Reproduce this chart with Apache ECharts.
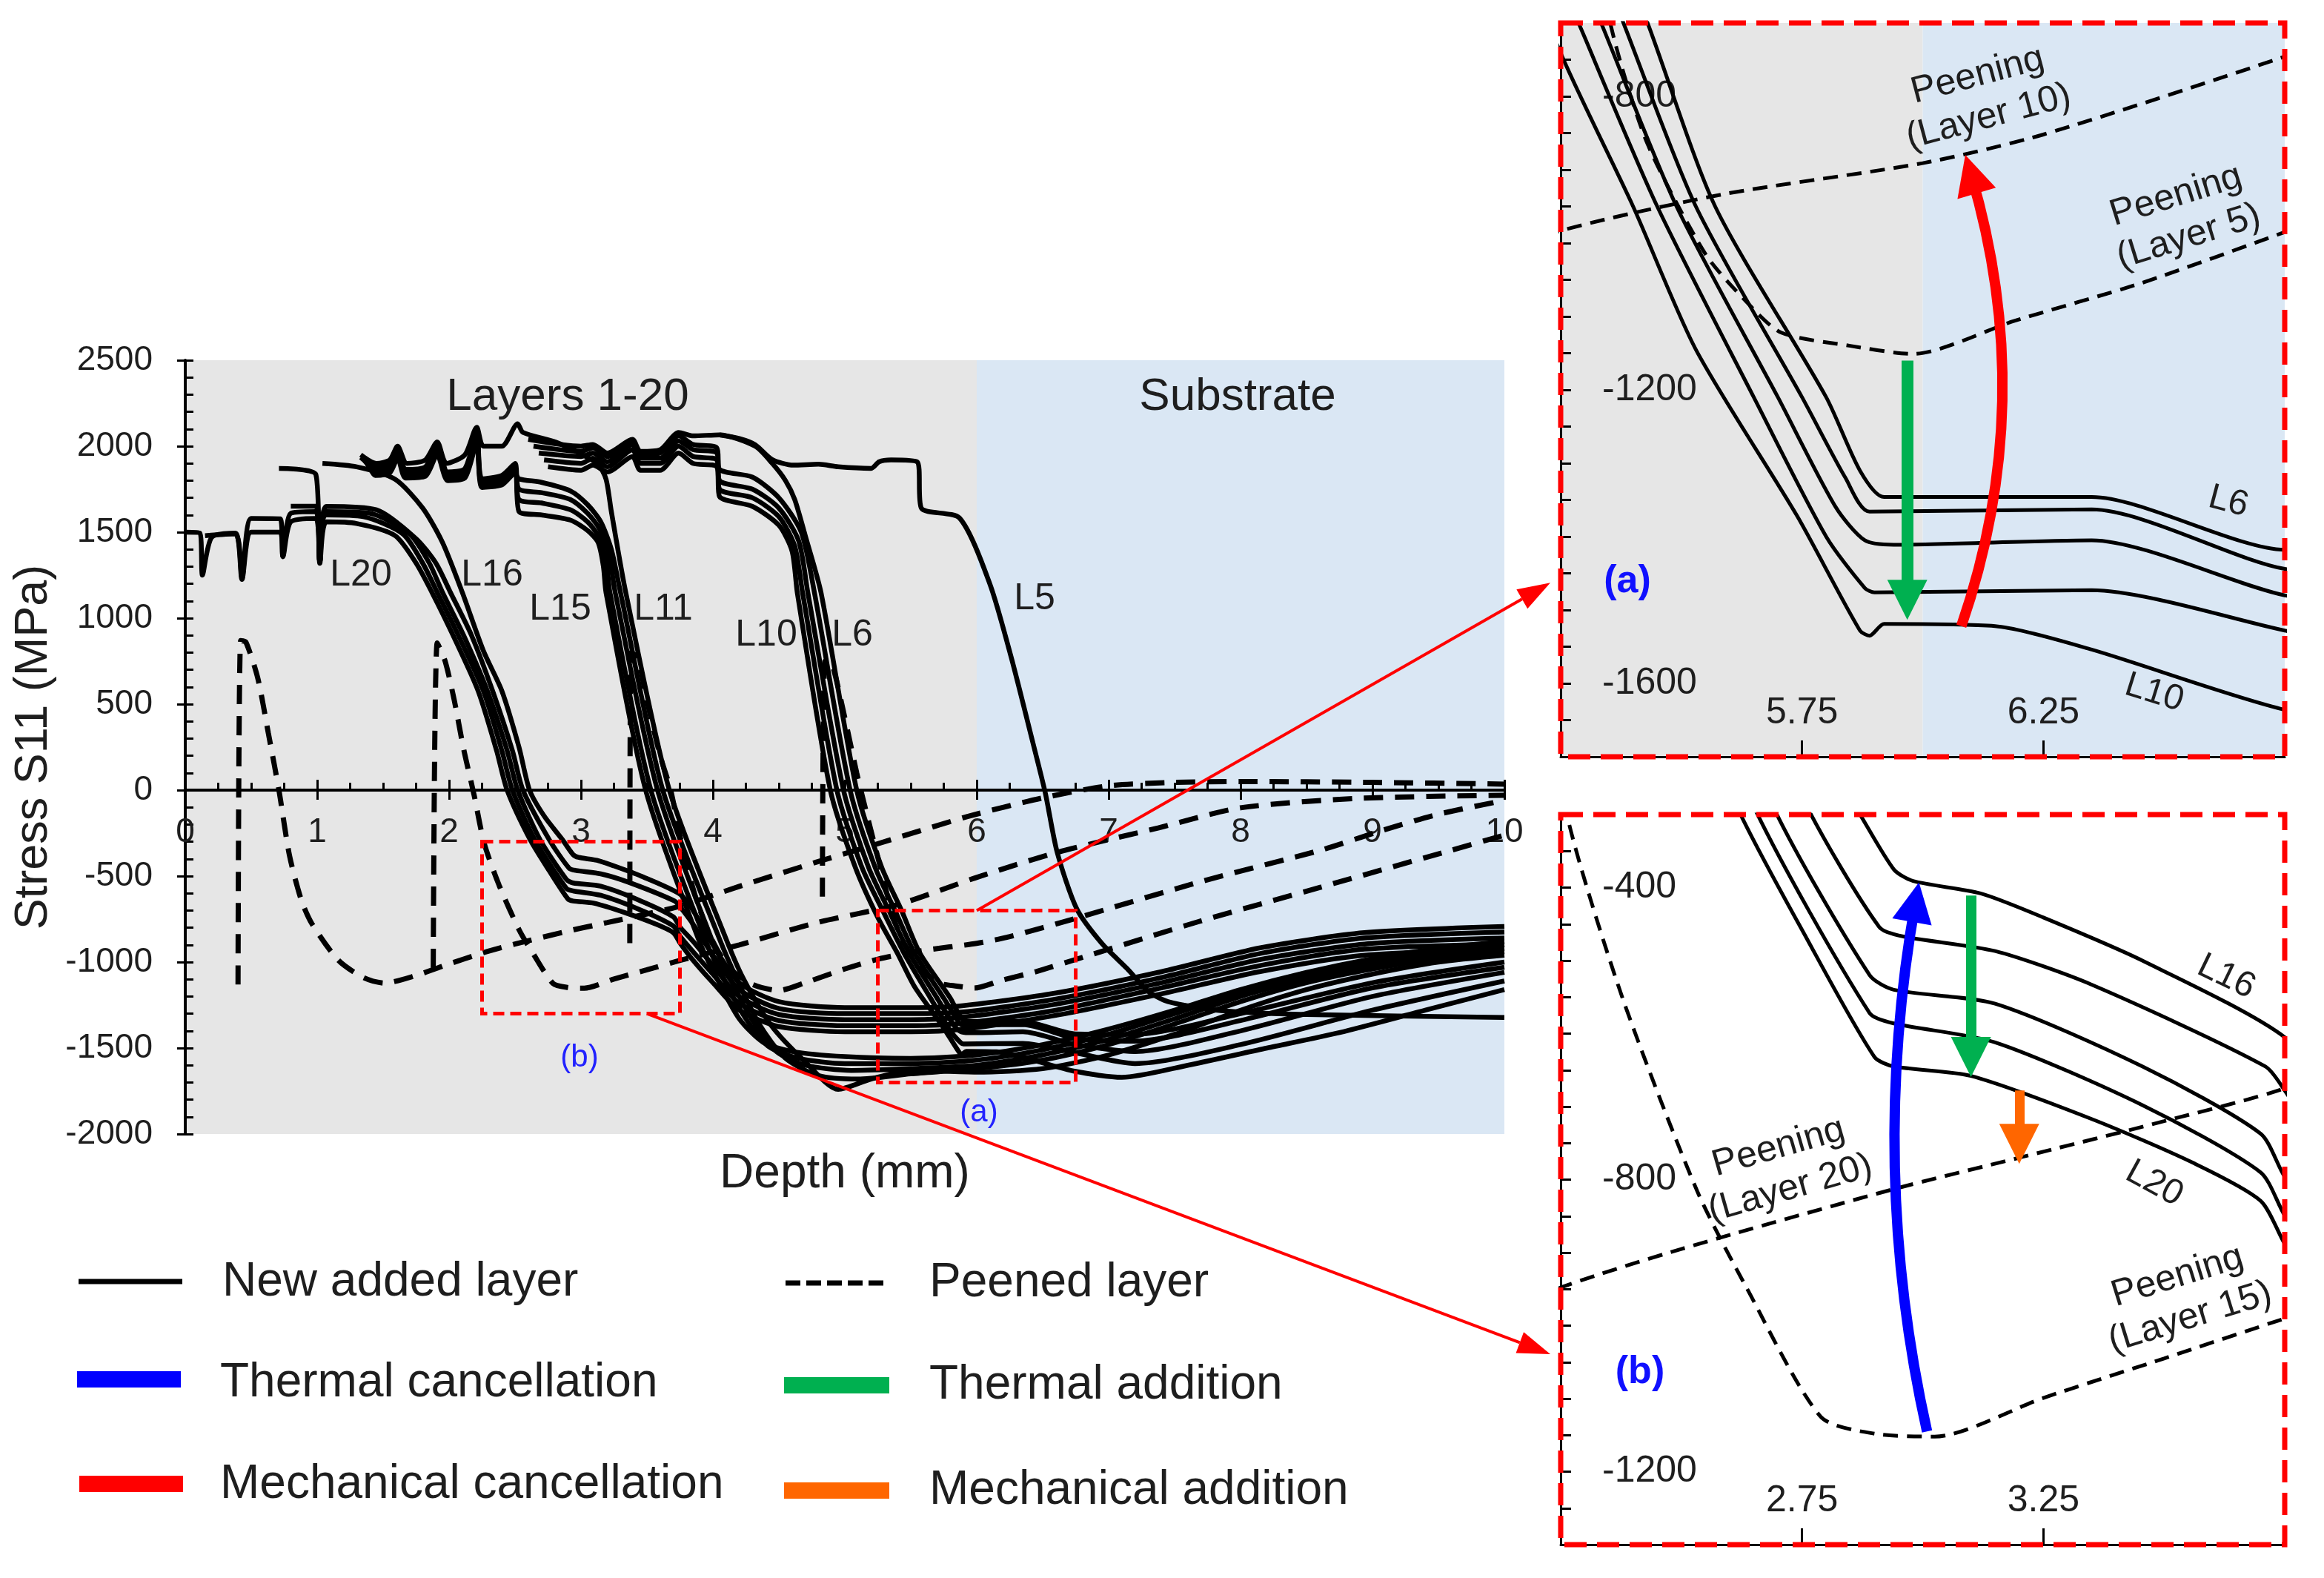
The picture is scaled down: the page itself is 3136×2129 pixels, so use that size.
<!DOCTYPE html>
<html>
<head>
<meta charset="utf-8">
<title>Stress S11 vs depth</title>
<script src="https://cdn.jsdelivr.net/npm/echarts/dist/echarts.min.js"></script>
<style>
html,body{margin:0;padding:0;background:#ffffff;}
#chart{width:3136px;height:2129px;}
</style>
</head>
<body>
<div id="chart"></div>
<script>
// ---------------- data: [depth (mm), stress S11 (MPa)] ----------------
// New added layers, group L16-L20
const L20 = [[0,1500],[0.11,1495],[0.13,1250],[0.2,1470],[0.38,1495],[0.43,1225],[0.5,1500],[0.72,1500],[0.74,1357],[0.8,1560],[0.99,1580],[1.02,1319],[1.07,1560],[1.3,1550],[1.59,1480],[1.75,1320],[1.87,1150],[2.03,900],[2.22,577],[2.36,230],[2.44,0],[2.615,-289],[2.76,-470],[2.90,-632],[2.94,-645],[3.10,-658],[3.35,-717],[3.56,-777],[3.70,-829],[3.75,-888],[3.85,-990],[4.0,-1120],[4.2,-1280],[4.5,-1375],[5.0,-1405],[5.5,-1405],[5.9,-1390],[6.6,-1310],[7.4,-1185],[8.15,-1055],[8.94,-960],[10,-930]];
const L19 = [[0.15,1480],[0.38,1490],[0.43,1235],[0.5,1580],[0.72,1578],[0.74,1360],[0.8,1610],[0.99,1620],[1.02,1330],[1.07,1600],[1.35,1590],[1.65,1490],[1.8,1320],[1.91,1150],[2.07,900],[2.26,577],[2.40,230],[2.48,0],[2.65,-289],[2.89,-572],[2.94,-586],[3.15,-612],[3.455,-698],[3.70,-790],[3.75,-849],[3.85,-940],[4.0,-1070],[4.2,-1240],[4.5,-1340],[5.0,-1370],[5.5,-1370],[5.9,-1355],[6.6,-1280],[7.4,-1150],[8.15,-1020],[8.94,-925],[10,-895]];
const L18 = [[0.8,1651],[0.99,1651],[1.02,1330],[1.07,1620],[1.4,1610],[1.7,1490],[1.85,1320],[1.95,1150],[2.11,900],[2.29,577],[2.44,230],[2.52,0],[2.69,-289],[2.89,-520],[2.94,-540],[3.15,-559],[3.455,-645],[3.70,-737],[3.75,-796],[3.85,-880],[4.0,-1020],[4.2,-1200],[4.5,-1305],[5.0,-1335],[5.5,-1335],[5.9,-1320],[6.6,-1245],[7.4,-1120],[8.15,-985],[8.94,-895],[10,-860]];
const L17 = [[0.71,1871],[0.99,1836],[1.02,1330],[1.07,1650],[1.45,1630],[1.75,1462],[1.9,1320],[2.01,1150],[2.17,900],[2.33,577],[2.48,230],[2.56,0],[2.76,-289],[2.91,-454],[2.96,-467],[3.15,-487],[3.35,-533],[3.71,-645],[3.75,-678],[3.85,-780],[4.0,-960],[4.2,-1160],[4.5,-1270],[5.0,-1300],[5.5,-1300],[5.9,-1290],[6.6,-1215],[7.4,-1090],[8.15,-950],[8.94,-860],[10,-825]];
const L16 = [[1.04,1900],[1.3,1880],[1.59,1808],[1.8,1640],[1.95,1440],[2.1,1150],[2.26,810],[2.40,577],[2.53,250],[2.61,0],[2.72,-150],[2.86,-289],[2.94,-375],[2.98,-391],[3.12,-408],[3.25,-441],[3.455,-500],[3.75,-605],[3.85,-700],[4.0,-900],[4.2,-1120],[4.5,-1230],[5.0,-1265],[5.5,-1265],[5.9,-1253],[6.6,-1180],[7.4,-1056],[8.15,-917],[8.94,-829],[10,-793]];
// group L11-L15
const L15 = [[1.33,1935],[1.44,1880],[1.55,1900],[1.61,1990],[1.67,1865],[1.82,1880],[1.91,2010],[1.99,1850],[2.12,1870],[2.21,2080],[2.25,1810],[2.4,1830],[2.5,1900],[2.53,1620],[2.7,1600],[2.92,1570],[3.05,1510],[3.13,1440],[3.17,1300],[3.19,1147],[3.49,0],[3.89,-866],[4.03,-1095],[4.2,-1330],[4.38,-1466],[4.6,-1520],[5.0,-1550],[5.5,-1560],[6.0,-1540],[6.5,-1480],[7.0,-1390],[7.5,-1280],[8.0,-1160],[8.5,-1060],[9.0,-980],[9.5,-920],[10,-880]];
const L14 = [[1.36,1915],[1.44,1860],[1.55,1880],[1.61,1970],[1.67,1845],[1.82,1860],[1.91,1990],[1.99,1830],[2.12,1850],[2.21,2060],[2.25,1790],[2.4,1810],[2.5,1880],[2.53,1690],[2.7,1670],[2.92,1630],[3.05,1560],[3.13,1480],[3.19,1340],[3.22,1147],[3.53,0],[3.94,-866],[4.08,-1095],[4.25,-1330],[4.42,-1490],[4.65,-1560],[5.0,-1590],[5.5,-1590],[6.0,-1570],[6.5,-1510],[7.0,-1420],[7.5,-1300],[8.0,-1180],[8.5,-1080],[9.0,-1000],[9.5,-940],[10,-900]];
const L13 = [[1.38,1895],[1.44,1845],[1.55,1860],[1.61,1950],[1.67,1830],[1.82,1840],[1.91,1970],[1.99,1815],[2.12,1830],[2.21,2040],[2.25,1775],[2.4,1790],[2.5,1860],[2.53,1750],[2.7,1730],[2.92,1690],[3.05,1610],[3.14,1520],[3.21,1380],[3.26,1147],[3.58,0],[3.99,-866],[4.13,-1095],[4.3,-1340],[4.48,-1520],[4.7,-1600],[5.05,-1630],[5.5,-1620],[6.0,-1600],[6.5,-1540],[7.0,-1450],[7.5,-1330],[8.0,-1200],[8.5,-1100],[9.0,-1020],[9.5,-960],[10,-920]];
const L12 = [[1.4,1875],[1.44,1830],[1.55,1845],[1.61,1930],[1.67,1815],[1.82,1825],[1.91,1950],[1.99,1800],[2.12,1815],[2.21,2020],[2.25,1760],[2.4,1775],[2.5,1840],[2.53,1810],[2.7,1790],[2.92,1740],[3.05,1660],[3.15,1560],[3.23,1400],[3.30,1147],[3.62,0],[4.05,-866],[4.18,-1095],[4.35,-1360],[4.55,-1560],[4.8,-1660],[5.1,-1680],[5.5,-1650],[6.0,-1620],[6.5,-1570],[7.0,-1480],[7.5,-1360],[8.0,-1230],[8.5,-1120],[9.0,-1040],[9.5,-980],[10,-940]];
const L11 = [[1.33,1950],[1.45,1900],[1.55,1920],[1.61,2000],[1.68,1900],[1.82,1920],[1.91,2025],[1.98,1900],[2.12,1950],[2.21,2110],[2.26,2000],[2.4,2000],[2.52,2130],[2.56,2080],[2.81,2023],[3.01,1951],[3.13,1894],[3.19,1808],[3.23,1620],[3.34,1147],[3.67,0],[4.10,-866],[4.23,-1095],[4.44,-1367],[4.7,-1580],[4.95,-1740],[5.2,-1680],[5.5,-1630],[6.0,-1640],[6.5,-1620],[7.0,-1540],[7.5,-1420],[8.0,-1280],[8.5,-1160],[9.0,-1070],[9.5,-1000],[10,-960]];
// group L6-L10
const L10 = [[2.75,1880],[3.0,1860],[3.09,1890],[3.2,1850],[3.39,1940],[3.45,1860],[3.6,1860],[3.74,1960],[3.85,1900],[4.03,1880],[4.05,1707],[4.3,1650],[4.5,1540],[4.6,1390],[4.64,1147],[4.89,0],[5.08,-450],[5.25,-741],[5.40,-950],[5.53,-1145],[5.74,-1372],[5.87,-1528],[5.89,-1535],[5.92,-1519],[6.15,-1522],[6.35,-1554],[6.75,-1636],[7.1,-1670],[7.6,-1600],[8.2,-1500],[8.75,-1410],[9.4,-1280],[10,-1160]];
const L9 = [[2.72,1920],[3.0,1900],[3.09,1930],[3.2,1880],[3.39,1980],[3.45,1900],[3.6,1900],[3.74,2000],[3.85,1940],[4.03,1920],[4.05,1750],[4.3,1700],[4.5,1590],[4.62,1420],[4.68,1147],[4.94,0],[5.13,-450],[5.30,-720],[5.45,-950],[5.65,-1210],[5.80,-1400],[5.88,-1470],[5.90,-1476],[6.35,-1473],[6.75,-1528],[7.2,-1590],[8.0,-1480],[9.0,-1280],[10,-1110]];
const L8 = [[2.68,1960],[3.0,1940],[3.09,1960],[3.2,1910],[3.39,2010],[3.45,1930],[3.6,1930],[3.74,2030],[3.85,1980],[4.03,1960],[4.05,1800],[4.3,1750],[4.5,1640],[4.65,1450],[4.72,1147],[4.99,0],[5.18,-450],[5.34,-710],[5.49,-950],[5.70,-1210],[5.82,-1360],[5.88,-1405],[5.94,-1411],[6.35,-1405],[6.75,-1480],[7.2,-1520],[8.0,-1400],[9.0,-1200],[10,-1060]];
const L7 = [[2.64,2000],[3.0,1970],[3.09,1990],[3.2,1940],[3.39,2030],[3.45,1950],[3.6,1960],[3.74,2060],[3.85,2010],[4.03,1990],[4.05,1865],[4.3,1820],[4.5,1700],[4.67,1500],[4.77,1147],[5.04,0],[5.23,-450],[5.38,-700],[5.53,-950],[5.75,-1210],[5.84,-1320],[5.89,-1366],[6.35,-1363],[6.75,-1444],[7.2,-1460],[8.0,-1340],[9.0,-1150],[10,-1030]];
const L6 = [[2.6,2040],[3.0,2000],[3.09,2010],[3.2,1960],[3.39,2040],[3.45,1970],[3.6,1980],[3.74,2080],[3.85,2060],[4.05,2066],[4.32,2000],[4.45,1900],[4.55,1800],[4.62,1690],[4.70,1480],[4.82,1147],[5.09,0],[5.28,-450],[5.43,-700],[5.57,-950],[5.80,-1210],[5.87,-1310],[5.92,-1346],[6.35,-1346],[6.75,-1418],[7.2,-1420],[8.0,-1300],[9.0,-1120],[10,-1000]];
// layer 5
const L5 = [[4.05,2066],[4.2,2045],[4.32,2009],[4.45,1922],[4.61,1890],[4.8,1895],[4.95,1880],[5.2,1871],[5.26,1909],[5.35,1920],[5.55,1908],[5.58,1640],[5.87,1582],[6.1,1198],[6.26,776],[6.42,293],[6.52,-17],[6.61,-362],[6.76,-693],[6.95,-893],[7.14,-1038],[7.3,-1170],[7.45,-1230],[7.85,-1282],[8.5,-1305],[10,-1322]];
// peened layers
const P20 = [[0.40,-1130],[0.42,870],[0.46,860],[0.55,650],[0.63,330],[0.71,0],[0.79,-380],[0.88,-640],[0.96,-777],[1.16,-989],[1.35,-1090],[1.51,-1122],[1.75,-1078],[1.98,-1016],[2.266,-944],[2.5,-895],[2.94,-813],[3.2,-770],[3.5,-720],[3.75,-675],[4.2,-560],[4.78,-420],[5.22,-319],[5.93,-154],[6.49,-47],[7.0,25],[7.5,45],[8.0,50],[9.0,45],[10,35]];
const P15 = [[1.88,-1034],[1.91,856],[1.97,750],[2.04,520],[2.11,240],[2.19,-30],[2.266,-309],[2.379,-553],[2.533,-816],[2.635,-948],[2.789,-1125],[2.9,-1148],[3.025,-1152],[3.25,-1099],[3.5,-1045],[3.752,-990],[4.2,-900],[4.78,-772],[5.41,-664],[5.99,-510],[6.61,-362],[7.38,-219],[8.0,-103],[8.92,-47],[10,-30]];
const P10 = [[3.37,-890],[3.38,800],[3.43,770],[3.5,520],[3.6,200],[3.68,0],[3.76,-300],[3.86,-600],[3.98,-850],[4.12,-1030],[4.3,-1130],[4.5,-1165],[4.7,-1120],[5.0,-1040],[5.256,-982],[5.59,-933],[6.0,-891],[6.25,-852],[6.74,-748],[7.69,-534],[8.61,-349],[9.08,-233],[9.5,-140],[10,-60]];
const P5 = [[4.83,-620],[4.85,750],[4.9,740],[5.0,420],[5.09,100],[5.17,-150],[5.27,-450],[5.36,-720],[5.43,-865],[5.55,-1015],[5.635,-1080],[5.707,-1122],[5.85,-1140],[5.98,-1151],[6.19,-1106],[6.455,-1054],[6.75,-985],[7.69,-763],[8.61,-564],[9.54,-362],[10,-262]];

// region boundaries (depth, mm)
const layerZone = [0, 6];
const substrateZone = [6, 10];

// main axis ranges
const xRange = [0, 10];
const yRange = [-2000, 2500];

// zoom windows [xmin, xmax, ymin, ymax]
const zoomA = [5.25, 6.75, -1700, -700];
const zoomB = [2.25, 3.75, -1300, -300];

// annotation arrows inside zoom windows (data coords)
const arrowsA = [
  {kind: 'Thermal addition', from: [5.968, -1160], to: [5.968, -1486], color: '#00b050', width: 16, curve: 0},
  {kind: 'Mechanical cancellation', from: [6.08, -1522], to: [6.10, -906], color: '#ff0000', width: 14, curve: -0.16}
];
const arrowsB = [
  {kind: 'Thermal cancellation', from: [3.009, -1145], to: [2.985, -420], color: '#0000ff', width: 14, curve: 0.1},
  {kind: 'Thermal addition', from: [3.1, -411], to: [3.1, -632], color: '#00b050', width: 14, curve: 0},
  {kind: 'Mechanical addition', from: [3.2, -678], to: [3.2, -751], color: '#ff6600', width: 13, curve: 0}
];

// ---------------- chart ----------------
const FONT = '"Liberation Sans", Arial, Helvetica, sans-serif';
const GRAY = '#e6e6e6';
const LBLUE = '#dae7f4';
const TXT = '#1e1e1e';

const MAIN = {left: 250, top: 486, width: 1780, height: 1044};
// distance of the zero line above the grid bottom (x axis drawn at stress = 0)
const zeroOffset = -MAIN.height * (0 - yRange[0]) / (yRange[1] - yRange[0]);

const chart = echarts.init(document.getElementById('chart'), null, {renderer: 'canvas', width: 3136, height: 2129});

function lineSeries(name, data, xi, yi, dashed, inset) {
  return {
    type: 'line', name: name, data: data, xAxisIndex: xi, yAxisIndex: yi,
    symbol: 'none', showSymbol: false, smooth: 0.25, silent: true, clip: true, z: 3,
    lineStyle: dashed
      ? {color: '#000', width: inset ? 5 : 7, type: inset ? [20, 12] : [26, 16], cap: 'butt'}
      : {color: '#000', width: inset ? 5 : 6.5}
  };
}

const solidAll = [['L5', L5], ['L6', L6], ['L7', L7], ['L8', L8], ['L9', L9], ['L10', L10], ['L11', L11], ['L12', L12], ['L13', L13], ['L14', L14], ['L15', L15], ['L16', L16], ['L17', L17], ['L18', L18], ['L19', L19], ['L20', L20]];
const peenAll = [['Peening (Layer 5)', P5], ['Peening (Layer 10)', P10], ['Peening (Layer 15)', P15], ['Peening (Layer 20)', P20]];

const series = [];
// main background zones
series.push({
  type: 'line', name: 'zones', data: [[layerZone[0], yRange[0]]], xAxisIndex: 0, yAxisIndex: 0, symbol: 'none', silent: true, z: 1,
  lineStyle: {width: 0},
  markArea: {silent: true, z: 1, label: {show: false}, data: [
    [{xAxis: layerZone[0], yAxis: yRange[0], itemStyle: {color: GRAY}}, {xAxis: layerZone[1], yAxis: yRange[1]}],
    [{xAxis: substrateZone[0], yAxis: yRange[0], itemStyle: {color: LBLUE}}, {xAxis: substrateZone[1], yAxis: yRange[1]}]
  ]}
});
solidAll.forEach(s => series.push(lineSeries(s[0], s[1], 0, 0, false, false)));
peenAll.forEach(s => series.push(lineSeries(s[0], s[1], 0, 0, true, false)));

// inset (a) background
series.push({
  type: 'line', name: 'zonesA', data: [[zoomA[0], zoomA[2]]], xAxisIndex: 3, yAxisIndex: 2, symbol: 'none', silent: true, z: 1,
  lineStyle: {width: 0},
  markArea: {silent: true, z: 1, label: {show: false}, data: [
    [{xAxis: zoomA[0], yAxis: zoomA[2], itemStyle: {color: GRAY}}, {xAxis: substrateZone[0], yAxis: zoomA[3]}],
    [{xAxis: substrateZone[0], yAxis: zoomA[2], itemStyle: {color: LBLUE}}, {xAxis: zoomA[1], yAxis: zoomA[3]}]
  ]}
});
[['L6', L6], ['L7', L7], ['L8', L8], ['L9', L9], ['L10', L10]].forEach(s => series.push(lineSeries(s[0], s[1], 3, 2, false, true)));
[['Peening (Layer 5)', P5], ['Peening (Layer 10)', P10]].forEach(s => series.push(lineSeries(s[0], s[1], 3, 2, true, true)));
// inset (b)
[['L16', L16], ['L17', L17], ['L18', L18], ['L19', L19], ['L20', L20]].forEach(s => series.push(lineSeries(s[0], s[1], 4, 3, false, true)));
[['Peening (Layer 15)', P15], ['Peening (Layer 20)', P20]].forEach(s => series.push(lineSeries(s[0], s[1], 4, 3, true, true)));

function arrowSeries(list, xi, yi) {
  return {
    type: 'lines', coordinateSystem: 'cartesian2d', xAxisIndex: xi, yAxisIndex: yi, z: 6, silent: true,
    symbol: ['none', 'triangle'], symbolSize: [0, 54],
    data: list.map(a => ({name: a.kind, coords: [a.from, a.to], lineStyle: {color: a.color, width: a.width, curveness: a.curve, opacity: 1}}))
  };
}
series.push(arrowSeries(arrowsA, 3, 2));
series.push(arrowSeries(arrowsB, 4, 3));

function insetX(gi, r) {
  return {
    gridIndex: gi, type: 'value', min: r[0], max: r[1], interval: 0.5, position: 'bottom', z: 2,
    axisLine: {show: true, onZero: false, lineStyle: {color: '#000', width: 3}},
    axisTick: {show: true, inside: true, length: 22, lineStyle: {color: '#000', width: 3}},
    axisLabel: {inside: true, margin: 34, fontSize: 50, color: TXT, fontFamily: FONT, showMinLabel: false, showMaxLabel: false, formatter: v => v.toFixed(2)},
    splitLine: {show: false}
  };
}
function insetY(gi, r) {
  return {
    gridIndex: gi, type: 'value', min: r[2], max: r[3], interval: 50, position: 'left', z: 2,
    axisLine: {show: true, onZero: false, lineStyle: {color: '#000', width: 3}},
    axisTick: {show: true, inside: true, length: 14, lineStyle: {color: '#000', width: 3}},
    axisLabel: {inside: true, margin: 56, fontSize: 50, color: TXT, fontFamily: FONT, formatter: v => (v % 400 === 0 ? String(v) : '')},
    splitLine: {show: false}
  };
}

function txt(id, text, x, y, size, opts) {
  opts = opts || {};
  return {
    type: 'text', id: id, x: x, y: y, rotation: opts.rot || 0, z: 60, silent: true,
    style: {text: text, fontSize: size, fontFamily: FONT, fontWeight: opts.bold ? 'bold' : 'normal', fill: opts.color || TXT,
      align: opts.align || 'center', verticalAlign: 'middle', lineHeight: opts.lh || size * 1.15}
  };
}

const graphics = [
  txt('tLayers', 'Layers 1-20', 766, 536, 62),
  txt('tSub', 'Substrate', 1670, 536, 62),
  txt('cL20', 'L20', 487, 776, 50),
  txt('cL16', 'L16', 664, 776, 50),
  txt('cL15', 'L15', 756, 822, 50),
  txt('cL11', 'L11', 895, 822, 50),
  txt('cL10', 'L10', 1034, 857, 50),
  txt('cL6', 'L6', 1150, 857, 50),
  txt('cL5', 'L5', 1396, 808, 50),
  txt('mB', '(b)', 782, 1427, 42, {color: '#2222ff'}),
  txt('mA', '(a)', 1321, 1501, 42, {color: '#2222ff'}),
  // inset (a)
  txt('aP10', 'Peening\n(Layer 10)', 2676, 130, 50, {rot: 0.26, lh: 58}),
  txt('aP5', 'Peening\n(Layer 5)', 2945, 292, 50, {rot: 0.3, lh: 58}),
  txt('aTag', '(a)', 2196, 785, 52, {bold: true, color: '#1010ff'}),
  txt('aL6', 'L6', 3007, 677, 48, {rot: -0.26}),
  txt('aL10', 'L10', 2907, 935, 48, {rot: -0.3}),
  // inset (b)
  txt('bP20', 'Peening\n(Layer 20)', 2408, 1576, 50, {rot: 0.28, lh: 58}),
  txt('bP15', 'Peening\n(Layer 15)', 2947, 1750, 50, {rot: 0.3, lh: 58}),
  txt('bTag', '(b)', 2213, 1852, 52, {bold: true, color: '#1010ff'}),
  txt('bL16', 'L16', 3004, 1318, 48, {rot: -0.45}),
  txt('bL20', 'L20', 2907, 1597, 48, {rot: -0.5}),
  // legend
  {type: 'line', id: 'lg1', z: 60, shape: {x1: 106, y1: 1729, x2: 246, y2: 1729}, style: {stroke: '#000', lineWidth: 7}},
  txt('lg1t', 'New added layer', 300, 1730, 64, {align: 'left'}),
  {type: 'line', id: 'lg2', z: 60, shape: {x1: 1060, y1: 1731, x2: 1200, y2: 1731}, style: {stroke: '#000', lineWidth: 7, lineDash: [20, 8]}},
  txt('lg2t', 'Peened layer', 1254, 1731, 64, {align: 'left'}),
  {type: 'rect', id: 'lg3', z: 60, shape: {x: 104, y: 1850, width: 140, height: 22}, style: {fill: '#0000ff'}},
  txt('lg3t', 'Thermal cancellation', 297, 1866, 64, {align: 'left'}),
  {type: 'rect', id: 'lg4', z: 60, shape: {x: 1058, y: 1858, width: 142, height: 22}, style: {fill: '#00b050'}},
  txt('lg4t', 'Thermal addition', 1254, 1869, 64, {align: 'left'}),
  {type: 'rect', id: 'lg5', z: 60, shape: {x: 107, y: 1991, width: 140, height: 22}, style: {fill: '#ff0000'}},
  txt('lg5t', 'Mechanical cancellation', 297, 2003, 64, {align: 'left'}),
  {type: 'rect', id: 'lg6', z: 60, shape: {x: 1058, y: 2000, width: 142, height: 22}, style: {fill: '#ff6600'}},
  txt('lg6t', 'Mechanical addition', 1254, 2011, 64, {align: 'left'})
];

const option = {
  animation: false,
  backgroundColor: '#ffffff',
  textStyle: {fontFamily: FONT},
  grid: [
    {left: MAIN.left, top: MAIN.top, width: MAIN.width, height: MAIN.height, show: false},
    {left: 2106, top: 31, width: 977, height: 990, show: false},
    {left: 2106, top: 1099, width: 977, height: 985, show: false}
  ],
  xAxis: [
    {gridIndex: 0, type: 'value', min: xRange[0], max: xRange[1], interval: 1, position: 'bottom', offset: zeroOffset, z: 2,
      axisLine: {show: true, onZero: false, lineStyle: {color: '#000', width: 4}},
      axisTick: {show: true, inside: false, length: 13, lineStyle: {color: '#000', width: 3}},
      axisLabel: {fontSize: 46, color: TXT, margin: 34, fontFamily: FONT},
      splitLine: {show: false}},
    {gridIndex: 0, type: 'value', min: xRange[0], max: xRange[1], interval: 1, position: 'bottom', offset: zeroOffset, z: 2,
      axisLine: {show: false, onZero: false},
      axisTick: {show: true, inside: true, length: 14, lineStyle: {color: '#000', width: 3}},
      minorTick: {show: true, splitNumber: 4, length: 10, lineStyle: {color: '#000', width: 3}},
      axisLabel: {show: false}, splitLine: {show: false}},
    {gridIndex: 0, type: 'value', min: xRange[0], max: xRange[1], position: 'bottom',
      axisLine: {show: false, onZero: false}, axisTick: {show: false}, axisLabel: {show: false}, splitLine: {show: false},
      name: 'Depth (mm)', nameLocation: 'middle', nameGap: 22,
      nameTextStyle: {fontSize: 64, color: TXT, fontFamily: FONT, verticalAlign: 'top'}},
    insetX(1, zoomA),
    insetX(2, zoomB)
  ],
  yAxis: [
    {gridIndex: 0, type: 'value', min: yRange[0], max: yRange[1], interval: 500, position: 'left', z: 2,
      axisLine: {show: true, onZero: false, lineStyle: {color: '#000', width: 4}},
      axisTick: {show: true, inside: false, length: 11, lineStyle: {color: '#000', width: 3}},
      axisLabel: {fontSize: 46, color: TXT, margin: 44, fontFamily: FONT, formatter: v => String(v)},
      splitLine: {show: false},
      name: 'Stress S11 (MPa)', nameLocation: 'middle', nameGap: 152,
      nameTextStyle: {fontSize: 63, color: TXT, fontFamily: FONT}},
    {gridIndex: 0, type: 'value', min: yRange[0], max: yRange[1], interval: 500, position: 'left', z: 2,
      axisLine: {show: false, onZero: false},
      axisTick: {show: true, inside: true, length: 11, lineStyle: {color: '#000', width: 3}},
      minorTick: {show: true, splitNumber: 5, length: 11, lineStyle: {color: '#000', width: 3}},
      axisLabel: {show: false}, splitLine: {show: false}},
    insetY(1, zoomA),
    insetY(2, zoomB)
  ],
  series: series,
  graphic: {elements: graphics}
};
chart.setOption(option);

// ---------- zoom boxes, inset borders and connector arrows (placed through the axes) ----------
function px(gi, p) { return chart.convertToPixel({gridIndex: gi}, p); }
function rectEl(id, a, b, style) {
  return {type: 'rect', id: id, z: 80, silent: true,
    shape: {x: Math.min(a[0], b[0]), y: Math.min(a[1], b[1]), width: Math.abs(b[0] - a[0]), height: Math.abs(b[1] - a[1])},
    style: Object.assign({fill: 'none'}, style)};
}
function arrowEls(id, p1, p2, color, lw, hl, hw) {
  const dx = p2[0] - p1[0], dy = p2[1] - p1[1], L = Math.hypot(dx, dy), ux = dx / L, uy = dy / L;
  const bx = p2[0] - ux * hl, by = p2[1] - uy * hl;
  return [
    {type: 'line', id: id + 'L', z: 85, silent: true, shape: {x1: p1[0], y1: p1[1], x2: bx, y2: by}, style: {stroke: color, lineWidth: lw}},
    {type: 'polygon', id: id + 'H', z: 85, silent: true, shape: {points: [[p2[0], p2[1]], [bx - uy * hw / 2, by + ux * hw / 2], [bx + uy * hw / 2, by - ux * hw / 2]]}, style: {fill: color}}
  ];
}
const boxStyleMain = {stroke: '#ff0000', lineWidth: 5, lineDash: [15, 8]};
const boxStyleInset = {stroke: '#ff0000', lineWidth: 7, lineDash: [30, 14]};
const extra = [
  rectEl('boxA', px(0, [zoomA[0], zoomA[3]]), px(0, [zoomA[1], zoomA[2]]), boxStyleMain),
  rectEl('boxB', px(0, [zoomB[0], zoomB[3]]), px(0, [zoomB[1], zoomB[2]]), boxStyleMain),
  rectEl('insA', px(1, [zoomA[0], zoomA[3]]), px(1, [zoomA[1], zoomA[2]]), boxStyleInset),
  rectEl('insB', px(2, [zoomB[0], zoomB[3]]), px(2, [zoomB[1], zoomB[2]]), boxStyleInset)
];
const tipA = px(1, [zoomA[0], -1463]); tipA[0] -= 14;
const tipB = px(2, [zoomB[0], -1039]); tipB[0] -= 14;
arrowEls('conA', px(0, [6.0, zoomA[3]]), tipA, '#ff0000', 4, 44, 30).forEach(e => extra.push(e));
arrowEls('conB', px(0, [3.5, zoomB[2]]), tipB, '#ff0000', 4, 44, 30).forEach(e => extra.push(e));
chart.setOption({graphic: {elements: extra}});
</script>
</body>
</html>
